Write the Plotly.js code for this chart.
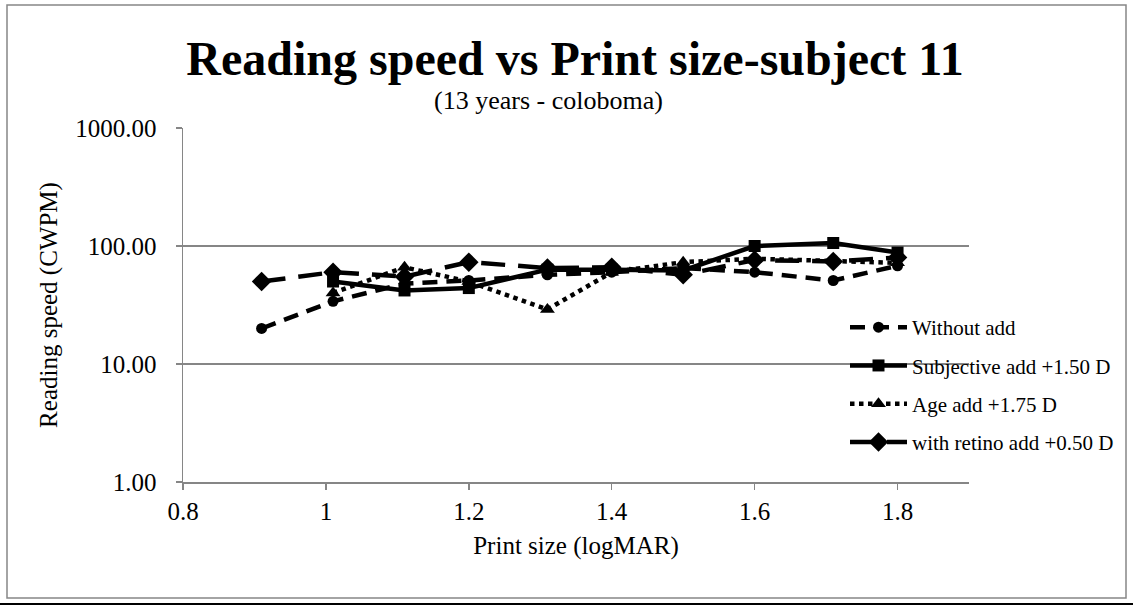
<!DOCTYPE html>
<html>
<head>
<meta charset="utf-8">
<script src="https://cdn.plot.ly/plotly-3.0.1.min.js"></script>
<style>
html,body{margin:0;padding:0;background:#fff;}
#chart{width:1133px;height:605px;}
</style>
</head>
<body>
<div id="chart"></div>
<script>
// ---- data ----
var printSize = [0.91, 1.01, 1.11, 1.2, 1.31, 1.4, 1.5, 1.6, 1.71, 1.8];
var withoutAdd    = [20, 34, 48, 51, 57, 60, 65, 60, 51, 68];
var subjectiveAdd = [null, 50, 42, 44, 63, 63, 62, 100, 106, 88];
var ageAdd        = [null, 40, 66, 50, 29, 60, 73, 78, 75, 72];
var retinoAdd     = [50, 60, 55, 73, 65, 66, 57, 76, 74, 80];
var seriesNames = ['Without add', 'Subjective add +1.50 D', 'Age add +1.75 D', 'with retino add +0.50 D'];
var yTickVals = [1, 10, 100, 1000];
var yTickText = ['1.00', '10.00', '100.00', '1000.00'];
var xTickVals = [0.8, 1, 1.2, 1.4, 1.6, 1.8];
var xTickText = ['0.8', '1', '1.2', '1.4', '1.6', '1.8'];

var FONT = 'Liberation Serif, Times New Roman, serif';
var W = 1133, H = 605;
var mL = 183, mR = 164, mT = 128, mB = 123;
var pw = W - mL - mR, ph = H - mT - mB;
function px2x(p){ return (p - mL) / pw; }
function px2y(p){ return (H - mB - p) / ph; }

function mk(name, y, dash, symbol, size, grp){
  return {
    type: 'scatter', mode: 'lines+markers', name: name, x: printSize, y: y,
    connectgaps: false, legendgroup: grp,
    line: {color: '#000', width: 4.5, dash: dash},
    marker: {color: '#000', symbol: symbol, size: size}
  };
}

var traces = [
  mk(seriesNames[0], withoutAdd, '15px,9px', 'circle', 11, 'g1'),
  mk(seriesNames[1], subjectiveAdd, 'solid', 'square', 12, 'g2'),
  mk(seriesNames[2], ageAdd, 'dot', 'triangle-up', 13, 'g3'),
  mk(seriesNames[3], retinoAdd, '24px,13px', 'diamond', 15, 'g4')
];

var layout = {
  width: W, height: H,
  margin: {l: mL, r: mR, t: mT, b: mB, pad: 0},
  paper_bgcolor: '#fff', plot_bgcolor: '#fff',
  font: {family: FONT, color: '#000', size: 22},
  showlegend: true,
  title: {
    text: '<b>Reading speed vs Print size-subject 11</b>',
    font: {family: FONT, size: 48, color: '#000'},
    x: px2x(575), xref: 'paper', xanchor: 'center',
    y: 1 - 58 / H, yref: 'container', yanchor: 'middle'
  },
  annotations: [{
    text: '(13 years - coloboma)', showarrow: false,
    xref: 'paper', yref: 'paper', x: px2x(548), y: px2y(100),
    xanchor: 'center', yanchor: 'middle',
    font: {family: FONT, size: 26, color: '#000'}
  }],
  xaxis: {
    range: [0.8, 1.9], tickvals: xTickVals, ticktext: xTickText,
    showgrid: false, zeroline: false,
    showline: true, linecolor: '#868686', linewidth: 1.5,
    ticks: 'outside', ticklen: 6, tickcolor: '#868686', tickwidth: 1.5,
    tickfont: {family: FONT, size: 25, color: '#000'},
    title: {text: 'Print size (logMAR)', font: {family: FONT, size: 25, color: '#000'}, standoff: 13}
  },
  yaxis: {
    type: 'log', range: [0, 3], tickvals: yTickVals, ticktext: yTickText,
    showgrid: true, gridcolor: '#868686', gridwidth: 1.5, zeroline: false,
    showline: true, linecolor: '#868686', linewidth: 1.5,
    ticks: 'outside', ticklen: 6, tickcolor: '#868686', tickwidth: 1.5,
    ticklabelstandoff: 14,
    tickfont: {family: FONT, size: 25, color: '#000'},
    title: {text: 'Reading speed (CWPM)', font: {family: FONT, size: 25, color: '#000'}, standoff: 10}
  },
  legend: {
    x: px2x(845), y: px2y(307), xanchor: 'left', yanchor: 'top',
    bgcolor: 'rgba(0,0,0,0)', borderwidth: 0,
    font: {family: FONT, size: 21, color: '#000'},
    tracegroupgap: 8, itemwidth: 57
  },
  shapes: [
    {type: 'rect', xref: 'paper', yref: 'paper',
     x0: px2x(7), x1: px2x(1126), y0: px2y(598), y1: px2y(5),
     line: {color: '#868686', width: 1.5}, fillcolor: 'rgba(0,0,0,0)', layer: 'below'},
    {type: 'line', xref: 'paper', yref: 'paper',
     x0: px2x(0), x1: px2x(1133), y0: px2y(604), y1: px2y(604),
     line: {color: '#000', width: 2}}
  ]
};

Plotly.newPlot('chart', traces, layout, {displayModeBar: false, staticPlot: true});
</script>
</body>
</html>
